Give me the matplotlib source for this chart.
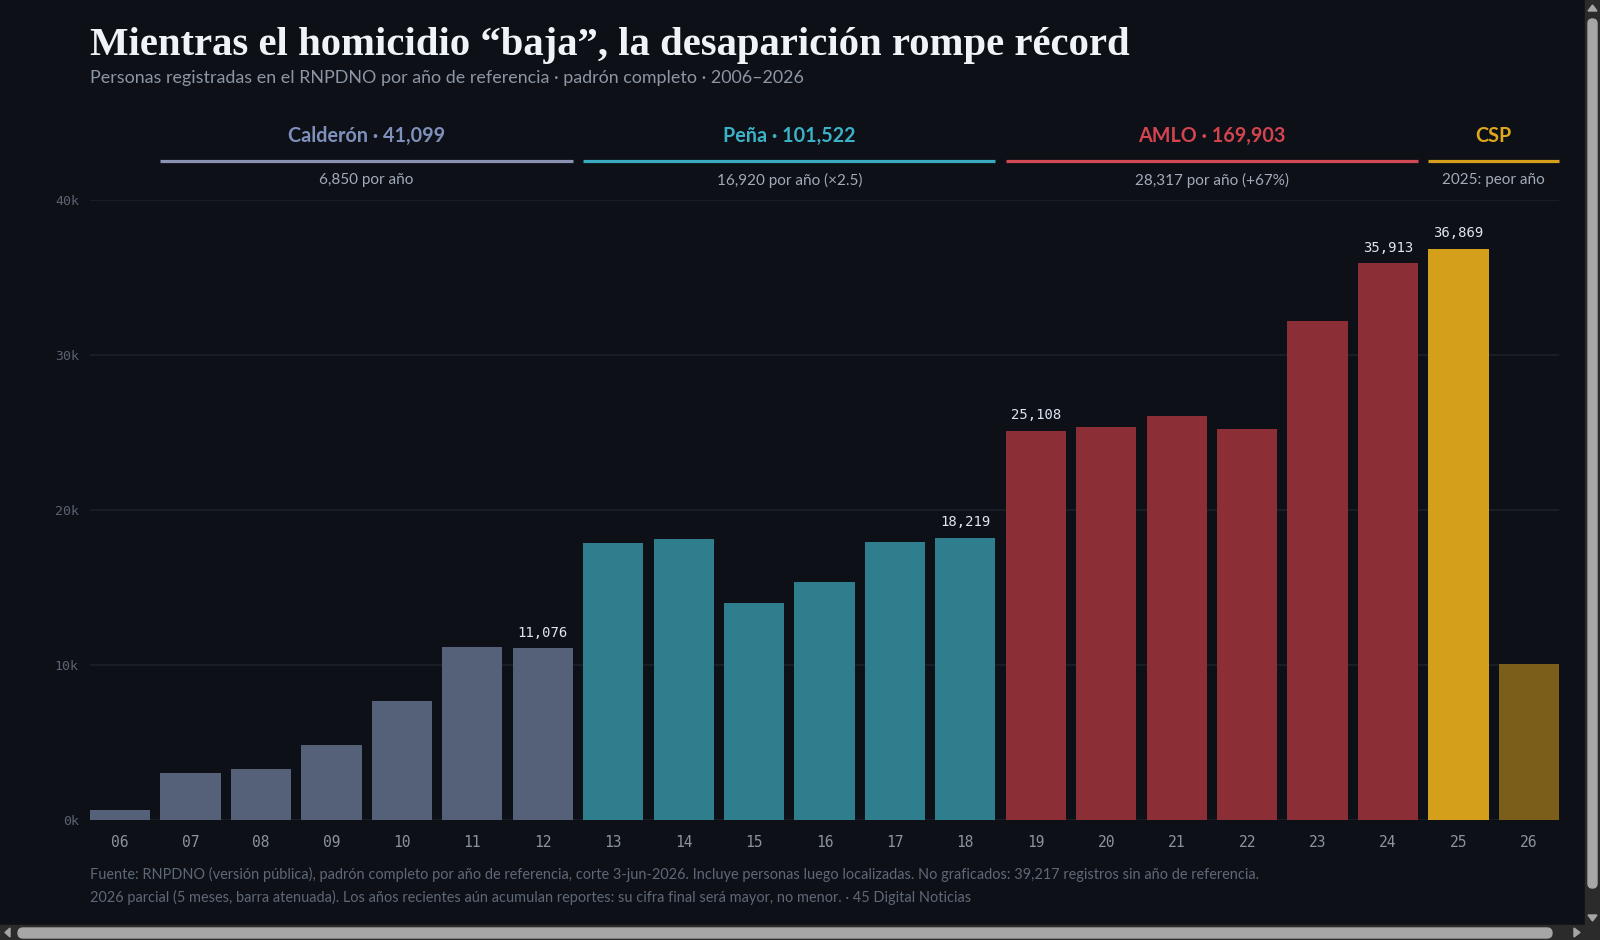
import matplotlib
matplotlib.use("Agg")
import matplotlib.pyplot as plt
from matplotlib.patches import Rectangle, Polygon, FancyBboxPatch
from matplotlib.transforms import blended_transform_factory

# data
years = ["06", "07", "08", "09", "10", "11", "12", "13", "14", "15", "16",
         "17", "18", "19", "20", "21", "22", "23", "24", "25", "26"]
values = [640, 3040, 3290, 4870, 7670, 11153, 11076, 17900, 18120, 13990, 15340,
          17953, 18219, 25108, 25340, 26070, 25250, 32222, 35913, 36869, 10050]
labeled_years = ["12", "18", "19", "24", "25"]
partial_year = "26"

periods = ["Calderón", "Peña", "AMLO", "CSP"]
period_totals = ["41,099", "101,522", "169,903", None]
period_notes = ["6,850 por año", "16,920 por año (×2.5)", "28,317 por año (+67%)", "2025: peor año"]
period_first = ["07", "13", "19", "25"]
period_last = ["12", "18", "24", "26"]

yticks = [0, 10000, 20000, 30000, 40000]

BG = "#0d1017"
BAR_COL = {"Calderón": "#556178", "Peña": "#2e7e8d", "AMLO": "#8b2e35", "CSP": "#d4a01c"}
HEAD_COL = {"Calderón": "#7e90bb", "Peña": "#3cb2c8", "AMLO": "#d2444f", "CSP": "#dfa71e"}
LINE_COL = {"Calderón": "#8a93b4", "Peña": "#39aac0", "AMLO": "#cf4a55", "CSP": "#d4a01c"}
PARTIAL_COL = "#7a5e1a"
SANS = ["Lato", "DejaVu Sans"]
MONO = "DejaVu Sans Mono"

W, H = 1600, 940
fig = plt.figure(figsize=(16, 9.4), dpi=100, facecolor=BG)

# plot area in pixels: x 90..1559, y 200 (40k) .. 820 (0)
ax = fig.add_axes([90 / W, (H - 820) / H, (1559 - 90) / W, 620 / H])
ax.set_facecolor(BG)

x = list(range(len(years)))
bw = 0.855


def period_of(yr):
    for p, a, b in zip(periods, period_first, period_last):
        if int(a) <= int(yr) <= int(b):
            return p
    return "Calderón"


colors = []
for yr in years:
    if yr == partial_year:
        colors.append(PARTIAL_COL)
    else:
        colors.append(BAR_COL[period_of(yr)])

ax.bar(x, values, width=bw, color=colors, zorder=3, linewidth=0)

ax.set_xlim(-bw / 2, len(years) - 1 + bw / 2)
ax.set_ylim(0, 40000)
ax.set_yticks(yticks)
ax.set_yticklabels([f"{v // 1000}k" for v in yticks], fontfamily=MONO, fontsize=9.5, color="#5b6270")
ax.set_xticks(x)
ax.set_xticklabels(years, fontfamily=MONO, fontsize=10.5, color="#8b949e")
ax.tick_params(axis="y", length=0, pad=8)
ax.tick_params(axis="x", length=0, pad=11)
for s in ax.spines.values():
    s.set_visible(False)
for v in yticks:
    ax.axhline(v, color="#1c2029", lw=1.2, zorder=1)

# value labels
for xi, yr, v in zip(x, years, values):
    if yr in labeled_years:
        ax.annotate(f"{v:,}", (xi, v), xytext=(0, 6), textcoords="offset points",
                    ha="center", va="bottom", fontfamily=MONO, fontsize=10,
                    color="#dde6f2", zorder=4)

# period headers
tr = blended_transform_factory(ax.transData, ax.transAxes)


def ay(py):
    return (820 - py) / 620


for p, tot, note, a, b in zip(periods, period_totals, period_notes, period_first, period_last):
    x0 = years.index(a) - bw / 2
    x1 = years.index(b) + bw / 2
    xm = (x0 + x1) / 2
    label = p if tot is None else f"{p} · {tot}"
    ax.text(xm, ay(136), label, transform=tr, ha="center", va="center",
            fontsize=14.2, fontweight="bold", color=HEAD_COL[p], family=SANS, clip_on=False)
    ax.plot([x0, x1], [ay(161), ay(161)], transform=tr, color=LINE_COL[p], lw=2.3,
            solid_capstyle="butt", clip_on=False)
    ax.text(xm, ay(180), note, transform=tr, ha="center", va="center",
            fontsize=11, color="#a2abb8", family=SANS, clip_on=False)

# titles and footnote
fig.text(90 / W, 1 - 45 / H, "Mientras el homicidio “baja”, la desaparición rompe récord",
         fontsize=29.3, fontweight="bold", family="Liberation Serif", color="#f0f3f8", va="center")
fig.text(90 / W, 1 - 78 / H,
         "Personas registradas en el RNPDNO por año de referencia · padrón completo · 2006–2026",
         fontsize=12.9, family=SANS, color="#8d96a3", va="center")
fig.text(90 / W, 1 - 874 / H,
         "Fuente: RNPDNO (versión pública), padrón completo por año de referencia, corte 3-jun-2026. "
         "Incluye personas luego localizadas. No graficados: 39,217 registros sin año de referencia.",
         fontsize=10.45, family=SANS, color="#5f6876", va="center")
fig.text(90 / W, 1 - 897 / H,
         "2026 parcial (5 meses, barra atenuada). Los años recientes aún acumulan reportes: "
         "su cifra final será mayor, no menor. · 45 Digital Noticias",
         fontsize=10.45, family=SANS, color="#5f6876", va="center")

# browser scrollbars visible in the screenshot
sb = fig.add_axes([0, 0, 1, 1], zorder=10)
sb.set_xlim(0, W)
sb.set_ylim(H, 0)
sb.axis("off")
sb.patch.set_alpha(0)
track = "#2b2b2b"
thumb = "#a6a6a6"
sb.add_patch(Rectangle((1585, 0), 15, 925, color=track))
sb.add_patch(Rectangle((0, 925), 1600, 15, color=track))
sb.add_patch(FancyBboxPatch((1588, 19), 9, 869, boxstyle="round,pad=0,rounding_size=4.5", color=thumb))
sb.add_patch(FancyBboxPatch((18, 928), 1534, 10, boxstyle="round,pad=0,rounding_size=5", color=thumb))
sb.add_patch(Polygon([(1588, 11), (1597, 11), (1592.5, 5)], color=thumb))
sb.add_patch(Polygon([(1588, 915), (1597, 915), (1592.5, 921)], color=thumb))
sb.add_patch(Polygon([(5, 932.5), (10, 928), (10, 937)], color=thumb))
sb.add_patch(Polygon([(1574, 928), (1574, 937), (1580, 932.5)], color=thumb))

fig.savefig("out.png", dpi=100, facecolor=BG)
